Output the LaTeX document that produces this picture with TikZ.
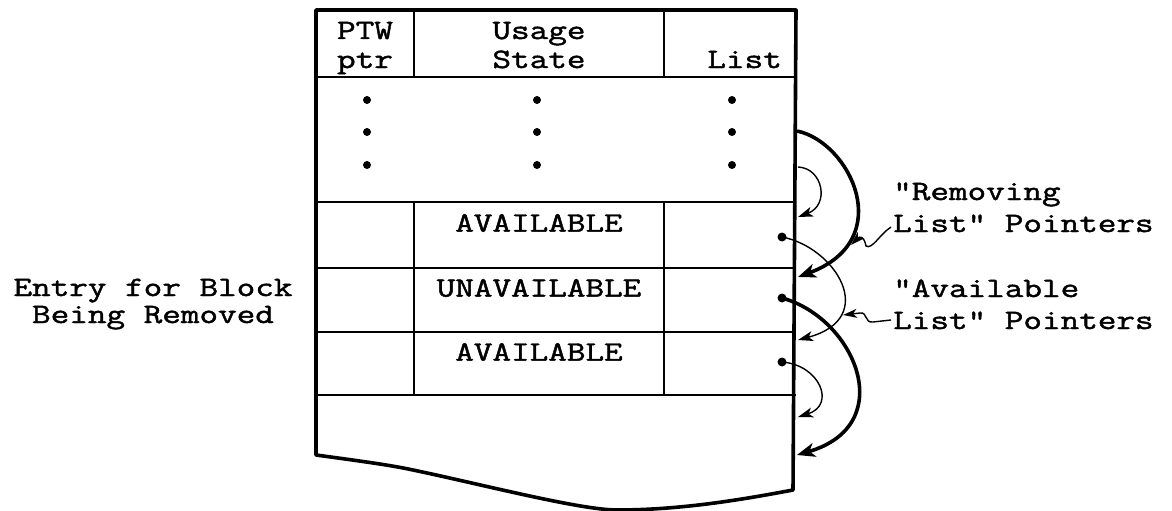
\documentclass[tikz,border=0pt]{standalone}
\usepackage{fontspec}
\newfontfamily\tw[FakeStretch=1.29,FakeBold=1.6]{Latin Modern Mono}
\usetikzlibrary{arrows.meta}
\begin{document}
\begin{tikzpicture}[x=1pt,y=-1pt,
  outer/.style={line width=3.6pt,line join=round,line cap=round},
  inner/.style={line width=1.6pt},
  thinptr/.style={line width=1.4pt,-{Stealth[length=15pt,width=10pt,inset=4pt]}},
  thickptr/.style={line width=3.6pt,-{Stealth[length=18pt,width=14pt,inset=5pt]}},
  leader/.style={line width=1.4pt,-{Stealth[length=14pt,width=9pt,inset=4pt]}},
  fdot/.style={circle,fill,inner sep=0pt,minimum size=8pt},
  pdot/.style={circle,fill,inner sep=0pt,minimum size=9pt},
  lbl/.style={font=\tw\fontsize{28}{30}\selectfont,inner sep=0pt}]
\useasboundingbox (0,0) rectangle (1172,511);

% inner table lines
\draw[inner] (316,77) -- (796,77);
\draw[inner] (316,202) -- (796,202);
\draw[inner] (316,268) -- (796,268);
\draw[inner] (316,332) -- (796,332);
\draw[inner] (316,395) -- (796,395);
\draw[inner] (414,10) -- (414,77);
\draw[inner] (664,10) -- (664,77);
\draw[inner] (414,202) -- (414,395);
\draw[inner] (664,202) -- (664,395);

% outer border with torn bottom
\draw[outer] (796,10) -- (316,10) -- (316,455)
  .. controls (360,461) and (390,465) .. (413,470)
  .. controls (480,484) and (580,510) .. (617,510)
  .. controls (680,510) and (740,500) .. (793,490) -- cycle;

% header
\node[lbl,anchor=base] (ptw) at (365,39) {PTW};
\node[lbl,anchor=base] (ptr) at (365,68) {ptr};
\node[lbl,anchor=base] (usage) at (539,39) {Usage};
\node[lbl,anchor=base] (state) at (539,68) {State};
\node[lbl,anchor=base east] (list) at (782,68) {List};

% continuation dots
\foreach \y [count=\i] in {100,132,165}{
  \node[fdot] (da\i) at (367,\y) {};
  \node[fdot] (db\i) at (537,\y) {};
  \node[fdot] (dc\i) at (732,\y) {};
}

% rows
\node[lbl] (av1) at (539,223) {AVAILABLE};
\node[lbl] (unav) at (539,288) {UNAVAILABLE};
\node[lbl] (av2) at (539,352) {AVAILABLE};

% left label
\node[lbl,anchor=base] (entry1) at (153,296) {Entry for Block};
\node[lbl,anchor=base] (entry2) at (153,323) {Being Removed};

% right labels
\node[lbl,anchor=base west] (rem1) at (893,200) {"Removing};
\node[lbl,anchor=base west] (rem2) at (893,232) {List" Pointers};
\node[lbl,anchor=base west] (ava1) at (893,297) {"Available};
\node[lbl,anchor=base west] (ava2) at (893,329) {List" Pointers};

% pointer dots and end points
\node[pdot] (p1) at (782,237) {};
\node[pdot] (p2) at (782,298) {};
\node[pdot] (p3) at (782,362) {};
\coordinate (s0) at (798,167);
\coordinate (t0) at (797,131);
\coordinate (e1) at (798,217);
\coordinate (e2) at (798,277);
\coordinate (e3) at (798,340);
\coordinate (e4) at (798,417);
\coordinate (e5) at (797,455);

% removing list pointers (thick)
\draw[thickptr] (t0) .. controls (850,142) and (898,240) .. (e2);
\draw[thickptr] (p2.center) .. controls (855,318) and (900,425) .. (e5);
% available list pointers (thin)
\draw[thinptr] (s0) .. controls (823,168) and (830,205) .. (e1);
\draw[thinptr] (p1.center) .. controls (835,247) and (880,318) .. (e3);
\draw[thinptr] (p3.center) .. controls (820,365) and (836,405) .. (e4);

% leaders
\coordinate (lr) at (891,227);
\coordinate (la) at (891,320);
\draw[leader] (lr) .. controls (880,234) and (872,250) .. (866,246)
  .. controls (864,236) and (860,236) .. (851,245);
\draw[leader] (la) -- (873,322) .. controls (864,323) and (868,312) .. (860,313) -- (843,315);
\end{tikzpicture}
\end{document}
